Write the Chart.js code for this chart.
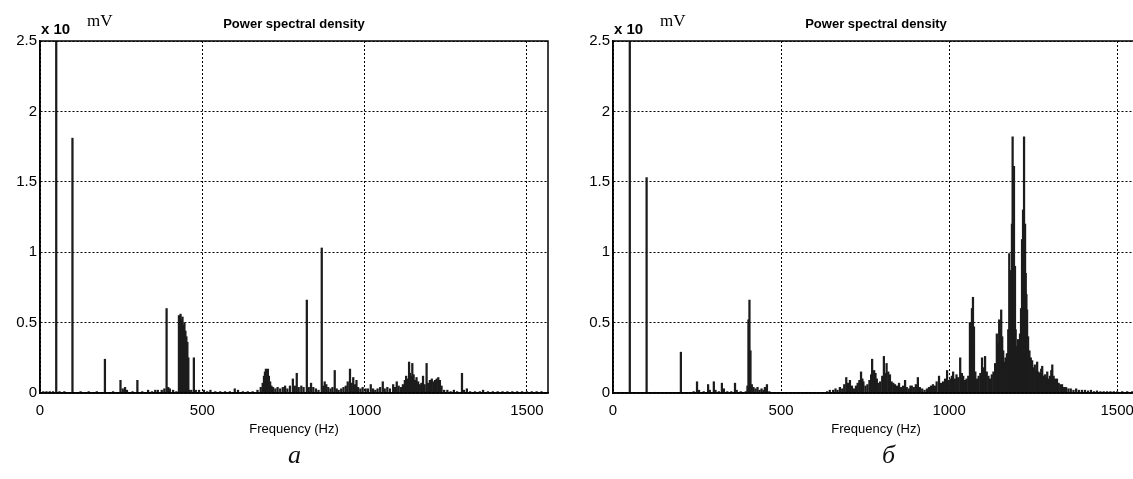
<!DOCTYPE html>
<html>
<head>
<meta charset="utf-8">
<script src="https://cdn.jsdelivr.net/npm/chart.js@4.4.0/dist/chart.umd.min.js"></script>
<style>
  body { margin: 0; width: 1133px; height: 479px; overflow: hidden; background: #fff; position: relative; }
  .grafico { position: absolute; top: 0; }
  #chartA { left: 0; }
  #chartB { left: 560px; }
  .letra { position: absolute; top: 440px; font: italic 26px "Liberation Serif", serif; color: #111; }
</style>
</head>
<body>
<canvas id="chartA" class="grafico" width="560" height="479"></canvas>
<canvas id="chartB" class="grafico" width="600" height="479"></canvas>
<div class="letra" style="left:288px">а</div>
<div class="letra" style="left:882px">б</div>
<script>
// ticks
const xTicks = [0, 500, 1000, 1500];
const yTicks = [0, 0.5, 1, 1.5, 2, 2.5];
const maxFrecuencia = 1565;
const titulo = 'Power spectral density';
const tituloX = 'Frequency (Hz)';

const espectroA = [
  [10,.01],[20,.01],[30,.01],[40,.01],[50,3.0],[60,.01],[75,.01],[100,1.81],[125,.01],[150,.01],
  [175,.01],[200,.24],[225,.01],[248,.09],[255,.03],[262,.04],[268,.02],[285,.01],[300,.09],[315,.01],
  [333,.02],[345,.01],[355,.02],[363,.02],[375,.02],[383,.03],[390,.60],[395,.04],[400,.03],[410,.02],
  [420,.01],[428,.55],[433,.56],[436,.52],[439,.54],[442,.48],[445,.50],[448,.44],[451,.40],[454,.36],
  [457,.25],[460,.02],[466,.02],[474,.25],[480,.02],[490,.02],[505,.02],[515,.01],[525,.02],[540,.01],
  [555,.01],[570,.01],[585,.01],[600,.03],[610,.02],[625,.01],[640,.01],[655,.01],[670,.02],[680,.04],
  [686,.07],[690,.12],[693,.15],[696,.17],[699,.16],[702,.17],[705,.12],[709,.08],[713,.05],[718,.04],
  [725,.03],[732,.04],[740,.03],[748,.04],[755,.05],[762,.03],[770,.05],[779,.10],[785,.05],[791,.14],
  [797,.04],[805,.05],[812,.04],[822,.66],[828,.04],[835,.07],[842,.04],[850,.03],[858,.02],[868,1.03],
  [873,.05],[877,.08],[882,.06],[888,.04],[895,.03],[901,.04],[908,.16],[914,.03],[920,.02],[928,.03],
  [935,.04],[942,.05],[948,.08],[955,.17],[960,.07],[965,.11],[970,.06],[975,.09],[980,.04],[987,.03],
  [994,.04],[1003,.03],[1010,.03],[1019,.06],[1026,.03],[1033,.02],[1040,.03],[1048,.04],[1056,.08],[1062,.03],
  [1070,.04],[1078,.03],[1088,.06],[1094,.04],[1099,.08],[1105,.05],[1112,.04],[1118,.06],[1124,.09],[1128,.12],
  [1132,.10],[1137,.22],[1140,.14],[1144,.12],[1147,.21],[1151,.13],[1155,.09],[1160,.11],[1165,.08],[1170,.06],
  [1175,.07],[1180,.12],[1185,.06],[1191,.21],[1196,.07],[1201,.09],[1207,.10],[1212,.08],[1217,.09],[1222,.10],
  [1227,.11],[1232,.09],[1237,.05],[1245,.02],[1255,.02],[1265,.01],[1275,.02],[1285,.01],[1300,.14],[1306,.02],
  [1315,.03],[1325,.01],[1340,.01],[1355,.01],[1365,.02],[1380,.01],[1395,.01],[1410,.01],[1425,.01],[1440,.01],
  [1455,.01],[1470,.01],[1485,.01],[1500,.01],[1515,.01],[1530,.01],[1545,.01]
];

const espectroB = [
  [10,.005],[25,.005],[50,3.0],[75,.005],[100,1.53],[125,.005],[150,.005],[175,.005],[202,.29],[225,.005],
  [240,.01],[250,.08],[256,.02],[270,.01],[283,.06],[288,.02],[300,.08],[305,.02],[315,.01],[324,.07],
  [330,.03],[340,.01],[352,.01],[363,.07],[368,.02],[380,.01],[395,.01],[400,.05],[403,.52],[406,.66],
  [409,.30],[413,.06],[418,.04],[424,.03],[430,.04],[436,.02],[442,.03],[448,.02],[452,.04],[458,.06],
  [465,.01],[480,.005],[500,.005],[520,.005],[540,.005],[560,.005],[580,.005],[600,.005],[620,.005],[637,.01],
  [645,.02],[655,.02],[662,.03],[668,.02],[675,.04],[682,.03],[688,.06],[694,.11],[699,.07],[705,.09],
  [711,.05],[717,.03],[723,.05],[728,.07],[733,.09],[738,.15],[742,.10],[745,.08],[751,.05],[757,.06],
  [763,.09],[768,.13],[771,.24],[774,.12],[777,.16],[781,.14],[785,.10],[790,.07],[795,.08],[801,.12],
  [806,.26],[810,.14],[814,.21],[819,.15],[824,.13],[829,.08],[834,.07],[839,.06],[845,.05],[851,.07],
  [857,.04],[863,.05],[869,.09],[874,.04],[880,.03],[885,.05],[889,.05],[895,.04],[901,.06],[907,.11],
  [913,.04],[920,.03],[927,.02],[934,.03],[940,.04],[946,.05],[952,.06],[958,.05],[963,.08],[970,.12],
  [976,.07],[982,.08],[988,.10],[994,.16],[999,.09],[1004,.10],[1008,.12],[1012,.15],[1017,.10],[1022,.13],
  [1027,.11],[1033,.25],[1038,.14],[1042,.12],[1047,.09],[1052,.10],[1057,.12],[1062,.50],[1066,.35],[1068,.60],
  [1071,.68],[1074,.47],[1078,.15],[1083,.10],[1088,.12],[1093,.14],[1098,.25],[1103,.18],[1107,.26],[1112,.15],
  [1117,.12],[1122,.10],[1127,.13],[1132,.15],[1137,.21],[1142,.42],[1146,.35],[1149,.52],[1152,.45],[1155,.59],
  [1158,.40],[1161,.30],[1165,.22],[1168,.25],[1172,.28],[1176,.45],[1179,.99],[1182,.75],[1184,.87],[1187,1.20],
  [1189,1.82],[1191,1.40],[1193,1.61],[1196,.90],[1198,.45],[1201,.33],[1205,.38],[1208,.30],[1211,.42],[1214,.60],
  [1217,1.09],[1220,1.30],[1223,1.82],[1226,1.20],[1228,.85],[1230,.70],[1232,.59],[1235,.40],[1239,.30],[1243,.25],
  [1247,.23],[1251,.18],[1255,.20],[1259,.16],[1262,.22],[1266,.15],[1270,.14],[1274,.17],[1277,.19],[1281,.12],
  [1285,.13],[1289,.11],[1292,.15],[1296,.10],[1300,.12],[1304,.16],[1307,.20],[1311,.12],[1315,.10],[1321,.10],
  [1326,.07],[1331,.06],[1336,.06],[1342,.04],[1348,.04],[1355,.03],[1362,.03],[1370,.02],[1378,.03],[1386,.02],
  [1395,.02],[1404,.02],[1413,.015],[1422,.02],[1431,.01],[1440,.015],[1450,.01],[1460,.01],[1470,.01],[1480,.01],
  [1490,.01],[1500,.01],[1515,.01],[1530,.01],[1545,.01],[1560,.01]
];

// marco, titulo y "x 10  mV"
const etiquetas = {
  id: 'etiquetas',
  afterDraw(chart) {
    const { ctx, chartArea: { left, top, right, bottom } } = chart;
    ctx.save();
    ctx.strokeStyle = '#000';
    ctx.lineWidth = 1.5;
    ctx.strokeRect(left, top, right - left, bottom - top);
    ctx.fillStyle = '#000';
    ctx.textBaseline = 'alphabetic';
    ctx.textAlign = 'center';
    ctx.font = 'bold 13px "Liberation Sans"';
    ctx.fillText(titulo, (left + right) / 2, top - 13);
    ctx.textAlign = 'left';
    ctx.font = 'bold 15px "Liberation Sans"';
    ctx.fillText('x 10', left + 1, top - 7);
    ctx.font = '17px "Liberation Serif"';
    ctx.fillText('mV', left + 47, top - 15);
    ctx.restore();
  }
};

const fuente = { family: '"Liberation Sans", Arial, sans-serif', size: 15 };

const crearGrafico = (id, espectro, anchoEjeY, derecha) => {
  const ctx = document.getElementById(id).getContext('2d');
  return new Chart(ctx, {
    type: 'bar',
    data: {
      datasets: [{
        data: espectro.map(([f, v]) => ({ x: f, y: v })),
        backgroundColor: '#1c1c1c',
        barThickness: 1.6,
        grouped: false
      }]
    },
    options: {
      responsive: false,
      animation: false,
      layout: { padding: { top: 41, right: derecha, left: 0, bottom: 0 } },
      plugins: { legend: { display: false }, tooltip: { enabled: false } },
      scales: {
        x: {
          type: 'linear',
          min: 0,
          max: maxFrecuencia,
          offset: false,
          afterBuildTicks: (eje) => { eje.ticks = xTicks.map(v => ({ value: v })); },
          afterFit: (eje) => { eje.height = 86; },
          grid: { color: '#000', lineWidth: 1, drawTicks: false, offset: false },
          border: { color: '#000', width: 1.5, dash: [2, 2] },
          ticks: { padding: 9, color: '#000', font: fuente, maxRotation: 0, callback: v => String(v) },
          title: {
            display: true, text: tituloX, color: '#000',
            font: { family: fuente.family, size: 13 },
            padding: { top: 0, bottom: 42 }
          }
        },
        y: {
          min: 0,
          max: 2.5,
          afterBuildTicks: (eje) => { eje.ticks = yTicks.map(v => ({ value: v })); },
          afterFit: (eje) => { eje.width = anchoEjeY; },
          grid: { color: '#000', lineWidth: 1, drawTicks: false },
          border: { color: '#000', width: 1.5, dash: [2, 2] },
          ticks: { padding: 3, color: '#000', font: fuente, callback: v => String(v) }
        }
      }
    },
    plugins: [etiquetas]
  });
};

crearGrafico('chartA', espectroA, 40, 12);
crearGrafico('chartB', espectroB, 53, 21);
</script>
</body>
</html>
